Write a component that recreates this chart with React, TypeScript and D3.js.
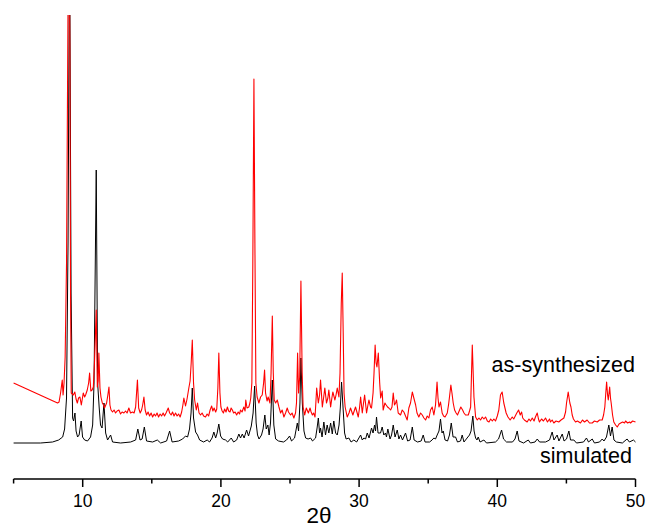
import React from "react";
import * as d3 from "d3";

// simulated pattern: [2θ, intensity a.u.]
const simulated: [number, number][] = [
  [5.0, 0], [6.95, 0], [7.82, 1], [8.26, 3], [8.55, 6], [8.69, 14], [8.83, 45], [8.94, 200], [9.05, 520], [9.16, 150],
  [9.27, 25], [9.34, 22], [9.44, 30], [9.52, 12], [9.63, 6], [9.74, 8], [9.89, 22], [9.99, 6], [10.14, 3], [10.35, 2],
  [10.57, 6], [10.72, 18], [10.82, 60], [10.98, 273], [11.08, 60], [11.19, 36], [11.29, 18], [11.4, 15], [11.54, 40], [11.66, 10],
  [11.8, 3], [12.02, 8], [12.16, 1], [12.74, 0], [13.47, 1], [13.83, 3], [13.99, 14], [14.15, 3], [14.3, 4], [14.46, 16],
  [14.62, 2], [15.06, 1], [15.4, 3], [15.64, 0], [16.07, 2], [16.29, 12], [16.47, 1], [16.94, 2], [17.23, 4], [17.44, 7],
  [17.59, 6], [17.73, 14], [17.84, 30], [17.93, 55], [18.02, 25], [18.17, 11], [18.31, 8], [18.46, 3], [18.75, 1], [19.01, 3],
  [19.18, 1], [19.36, 5], [19.49, 11], [19.62, 5], [19.73, 10], [19.85, 19], [19.98, 7], [20.12, 4], [20.34, 3], [20.49, 1],
  [20.75, 5], [20.92, 1], [21.14, 3], [21.3, 9], [21.42, 5], [21.55, 9], [21.68, 5], [21.86, 13], [22.0, 7], [22.2, 17],
  [22.33, 30], [22.44, 57], [22.55, 20], [22.65, 8], [22.76, 4], [22.94, 8], [23.05, 14], [23.18, 28], [23.28, 14], [23.4, 18],
  [23.49, 8], [23.59, 20], [23.72, 63], [23.83, 18], [23.96, 4], [24.17, 2], [24.53, 1], [24.75, 3], [24.97, 7], [25.11, 2],
  [25.33, 5], [25.53, 20], [25.62, 12], [25.72, 40], [25.79, 85], [25.89, 40], [26.01, 12], [26.13, 5], [26.31, 4], [26.49, 5],
  [26.63, 2], [26.85, 5], [26.96, 15], [27.05, 25], [27.14, 10], [27.21, 15], [27.32, 6], [27.45, 21], [27.57, 8], [27.69, 18],
  [27.81, 10], [27.94, 20], [28.06, 9], [28.17, 22], [28.3, 10], [28.42, 8], [28.55, 18], [28.64, 35], [28.73, 61], [28.84, 35],
  [28.95, 10], [29.06, 4], [29.26, 5], [29.42, 1], [29.62, 3], [29.82, 1], [30.11, 8], [30.23, 3], [30.35, 5], [30.47, 4],
  [30.59, 10], [30.72, 5], [30.9, 15], [31.01, 10], [31.12, 18], [31.19, 12], [31.26, 26], [31.37, 10], [31.55, 10], [31.67, 16],
  [31.79, 8], [31.91, 10], [31.98, 6], [32.08, 14], [32.24, 4], [32.35, 8], [32.47, 18], [32.6, 6], [32.76, 13], [32.88, 4],
  [33.0, 8], [33.14, 3], [33.36, 10], [33.51, 2], [33.69, 3], [33.85, 16], [33.98, 3], [34.23, 1], [34.49, 2], [34.64, 8],
  [34.77, 1], [35.1, 1], [35.28, 3], [35.41, 5], [35.53, 4], [35.65, 8], [35.78, 12], [35.89, 24], [36.0, 10], [36.09, 12],
  [36.22, 3], [36.4, 2], [36.54, 8], [36.67, 20], [36.8, 6], [36.98, 6], [37.12, 1], [37.34, 2], [37.46, 8], [37.59, 1],
  [37.87, 6], [37.99, 8], [38.1, 12], [38.23, 27], [38.32, 12], [38.43, 5], [38.53, 3], [38.62, 6], [38.75, 1], [39.03, 3],
  [39.22, 0], [39.87, 1], [40.09, 4], [40.31, 13], [40.45, 4], [40.67, 1], [41.1, 1], [41.28, 4], [41.44, 12], [41.57, 2],
  [41.9, 0], [42.24, 3], [42.4, 0], [42.73, 1], [42.89, 4], [43.06, 1], [43.49, 1], [43.78, 3], [43.97, 11], [44.1, 3],
  [44.33, 8], [44.46, 2], [44.7, 9], [44.83, 2], [45.01, 4], [45.18, 12], [45.3, 3], [45.54, 3], [45.73, 0], [46.24, 1],
  [46.45, 5], [46.6, 1], [46.87, 4], [47.03, 0], [47.4, 1], [47.59, 4], [47.72, 2], [47.9, 6], [48.07, 18], [48.19, 7],
  [48.31, 16], [48.44, 3], [48.62, 1], [49.05, 0], [49.39, 4], [49.56, 1], [49.85, 3], [50.0, 1],
];

// as-synthesized pattern (offset): [2θ, intensity a.u.]
const synthesized: [number, number][] = [
  [5.0, 60], [8.18, 40], [8.29, 41], [8.4, 50], [8.52, 63], [8.58, 48], [8.65, 60], [8.73, 86], [8.83, 180], [8.93, 420],
  [9.0, 560], [9.07, 400], [9.12, 150], [9.17, 50], [9.32, 48], [9.43, 51], [9.52, 44], [9.61, 40], [9.7, 45], [9.8, 46],
  [9.9, 38], [10.04, 50], [10.14, 46], [10.21, 48], [10.33, 53], [10.43, 60], [10.5, 70], [10.59, 52], [10.68, 53], [10.77, 56],
  [10.85, 80], [10.98, 133], [11.06, 56], [11.12, 62], [11.17, 90], [11.25, 55], [11.32, 46], [11.42, 40], [11.51, 38], [11.58, 35],
  [11.73, 40], [11.82, 48], [11.9, 56], [11.97, 38], [12.05, 33], [12.16, 31], [12.27, 33], [12.38, 30], [12.49, 32], [12.62, 33],
  [12.74, 29], [12.85, 31], [12.98, 30], [13.1, 32], [13.21, 30], [13.34, 35], [13.46, 30], [13.61, 31], [13.72, 30], [13.83, 36],
  [13.96, 63], [14.05, 35], [14.16, 30], [14.26, 33], [14.34, 38], [14.43, 46], [14.52, 33], [14.62, 28], [14.73, 31], [14.84, 27],
  [14.95, 30], [15.06, 26], [15.17, 29], [15.27, 27], [15.38, 30], [15.49, 26], [15.6, 29], [15.71, 27], [15.82, 30], [15.92, 27],
  [16.03, 30], [16.19, 35], [16.29, 30], [16.4, 28], [16.5, 31], [16.61, 27], [16.72, 30], [16.83, 27], [16.94, 29], [17.05, 26],
  [17.16, 31], [17.25, 38], [17.32, 45], [17.44, 37], [17.55, 44], [17.68, 55], [17.77, 62], [17.85, 80], [17.93, 103], [18.02, 60],
  [18.1, 43], [18.22, 33], [18.31, 40], [18.42, 30], [18.53, 28], [18.64, 30], [18.75, 27], [18.89, 26], [19.0, 29], [19.11, 27],
  [19.22, 33], [19.33, 37], [19.42, 32], [19.51, 35], [19.62, 31], [19.7, 34], [19.78, 55], [19.85, 90], [19.93, 50], [20.0, 36],
  [20.09, 32], [20.18, 30], [20.27, 34], [20.37, 31], [20.47, 36], [20.56, 32], [20.66, 31], [20.74, 35], [20.83, 33], [20.92, 30],
  [21.03, 31], [21.14, 28], [21.25, 31], [21.35, 29], [21.42, 33], [21.53, 31], [21.66, 36], [21.75, 32], [21.8, 43], [21.89, 35],
  [22.02, 36], [22.1, 40], [22.16, 45], [22.24, 60], [22.31, 180], [22.39, 364], [22.46, 200], [22.53, 60], [22.62, 46], [22.75, 40],
  [22.87, 46], [22.99, 48], [23.09, 60], [23.16, 73], [23.23, 50], [23.34, 42], [23.42, 46], [23.55, 40], [23.63, 70], [23.72, 127],
  [23.79, 70], [23.86, 43], [23.96, 40], [24.08, 43], [24.2, 36], [24.32, 30], [24.43, 33], [24.56, 26], [24.68, 30], [24.8, 35],
  [24.89, 31], [25.04, 28], [25.15, 30], [25.28, 25], [25.4, 30], [25.47, 40], [25.55, 90], [25.62, 50], [25.7, 66], [25.79, 162],
  [25.88, 70], [25.95, 36], [26.06, 28], [26.18, 35], [26.33, 30], [26.45, 35], [26.53, 31], [26.62, 28], [26.71, 30], [26.81, 26],
  [26.87, 40], [26.93, 55], [27.05, 40], [27.14, 48], [27.21, 63], [27.34, 36], [27.43, 45], [27.52, 55], [27.64, 40], [27.74, 45],
  [27.81, 53], [27.94, 36], [28.03, 45], [28.1, 51], [28.25, 43], [28.33, 48], [28.42, 55], [28.54, 46], [28.62, 70], [28.71, 140],
  [28.78, 170], [28.85, 110], [28.91, 50], [28.99, 36], [29.14, 26], [29.27, 30], [29.38, 35], [29.55, 28], [29.74, 36], [29.94, 26],
  [30.03, 35], [30.11, 46], [30.23, 30], [30.32, 40], [30.4, 48], [30.54, 30], [30.64, 38], [30.71, 43], [30.83, 36], [30.9, 35],
  [31.01, 50], [31.08, 70], [31.16, 98], [31.23, 80], [31.29, 76], [31.39, 90], [31.49, 60], [31.56, 45], [31.67, 52], [31.74, 33],
  [31.87, 40], [31.96, 38], [32.06, 36], [32.15, 35], [32.28, 33], [32.38, 36], [32.47, 50], [32.56, 38], [32.64, 40], [32.71, 43],
  [32.83, 30], [33.0, 28], [33.12, 33], [33.24, 31], [33.36, 27], [33.48, 23], [33.6, 35], [33.72, 40], [33.85, 51], [33.96, 45],
  [34.09, 38], [34.19, 30], [34.32, 26], [34.45, 30], [34.57, 28], [34.69, 25], [34.81, 23], [34.93, 27], [35.05, 25], [35.17, 33],
  [35.29, 36], [35.41, 28], [35.53, 38], [35.64, 61], [35.71, 45], [35.78, 36], [35.89, 41], [36.01, 30], [36.11, 27], [36.22, 26],
  [36.38, 30], [36.47, 38], [36.54, 46], [36.64, 58], [36.72, 50], [36.81, 40], [36.91, 33], [37.02, 30], [37.12, 28], [37.24, 32],
  [37.36, 36], [37.49, 33], [37.59, 30], [37.7, 28], [37.9, 28], [37.99, 32], [38.07, 36], [38.19, 98], [38.31, 46], [38.43, 26],
  [38.55, 23], [38.67, 25], [38.79, 23], [38.91, 26], [39.03, 24], [39.15, 26], [39.28, 22], [39.4, 21], [39.52, 24], [39.64, 22],
  [39.75, 24], [39.87, 22], [40.0, 27], [40.11, 33], [40.23, 48], [40.35, 51], [40.47, 40], [40.64, 30], [40.77, 26], [40.93, 23],
  [41.08, 26], [41.19, 24], [41.3, 27], [41.41, 30], [41.54, 33], [41.66, 28], [41.76, 31], [41.84, 25], [41.96, 23], [42.16, 21],
  [42.29, 24], [42.4, 22], [42.53, 25], [42.66, 22], [42.76, 26], [42.89, 30], [42.98, 24], [43.05, 21], [43.2, 24], [43.34, 22],
  [43.49, 25], [43.63, 21], [43.78, 24], [43.85, 21], [43.97, 23], [44.09, 20], [44.25, 22], [44.45, 21], [44.61, 23], [44.82, 25],
  [44.94, 31], [45.01, 40], [45.13, 51], [45.25, 40], [45.33, 36], [45.42, 28], [45.51, 24], [45.66, 21], [45.8, 22], [46.02, 20],
  [46.16, 23], [46.31, 21], [46.5, 23], [46.67, 20], [46.87, 20], [47.03, 22], [47.23, 21], [47.4, 23], [47.59, 23], [47.69, 28],
  [47.78, 36], [47.85, 50], [47.91, 61], [47.98, 48], [48.03, 43], [48.13, 56], [48.19, 45], [48.24, 40], [48.34, 28], [48.43, 21],
  [48.56, 18], [48.68, 16], [48.81, 19], [48.93, 20], [49.07, 21], [49.21, 20], [49.28, 22], [49.43, 20], [49.57, 21], [49.64, 20],
  [49.79, 22], [50.0, 21],
];

const xMajorTicks = [10, 20, 30, 40, 50];
const xMinorTicks = [5, 15, 25, 35, 45];
const xDomain: [number, number] = [5, 50];
const yDomain: [number, number] = [-36, 428];
const seriesLabels = ["as-synthesized", "simulated"];
const axisTitle = "2θ";

export default function App() {
  const W = 648, H = 529;
  const left = 13.6, right = 635.5, top = 15, axisY = 479;
  const x = d3.scaleLinear().domain(xDomain).range([left, right]);
  const y = d3.scaleLinear().domain(yDomain).range([axisY, top]);
  const line = d3.line<[number, number]>().x(d => x(d[0])).y(d => y(d[1]));
  const font = "Arial, 'Liberation Sans', sans-serif";
  return (
    <svg width={W} height={H} style={{ position: "absolute", left: 0, top: 0, background: "#fff" }}>
      <defs>
        <clipPath id="plotclip">
          <rect x={left - 1} y={top} width={right - left + 2} height={axisY - top} />
        </clipPath>
      </defs>
      <g clipPath="url(#plotclip)" fill="none" strokeLinejoin="round">
        <path d={line(simulated) || ""} stroke="#000" strokeWidth={1} />
        <path d={line(synthesized) || ""} stroke="#ff0000" strokeWidth={1.1} />
      </g>
      <line x1={left} x2={right} y1={axisY} y2={axisY} stroke="#000" strokeWidth={1.5} />
      {xMajorTicks.map(t => (
        <g key={"M" + t}>
          <line x1={x(t)} x2={x(t)} y1={axisY} y2={axisY + 8} stroke="#000" strokeWidth={1.5} />
          <text x={x(t)} y={507} textAnchor="middle" fontFamily={font} fontSize={17.5} fill="#000">{t}</text>
        </g>
      ))}
      {xMinorTicks.map(t => (
        <line key={"m" + t} x1={x(t)} x2={x(t)} y1={axisY} y2={axisY + 4.5} stroke="#000" strokeWidth={1.5} />
      ))}
      <text x={319} y={523} textAnchor="middle" fontFamily={font} fontSize={22.5} fill="#000">{axisTitle}</text>
      <text x={635} y={372} textAnchor="end" fontFamily={font} fontSize={21.5} fill="#000">{seriesLabels[0]}</text>
      <text x={632} y={463} textAnchor="end" fontFamily={font} fontSize={21.5} fill="#000">{seriesLabels[1]}</text>
    </svg>
  );
}
